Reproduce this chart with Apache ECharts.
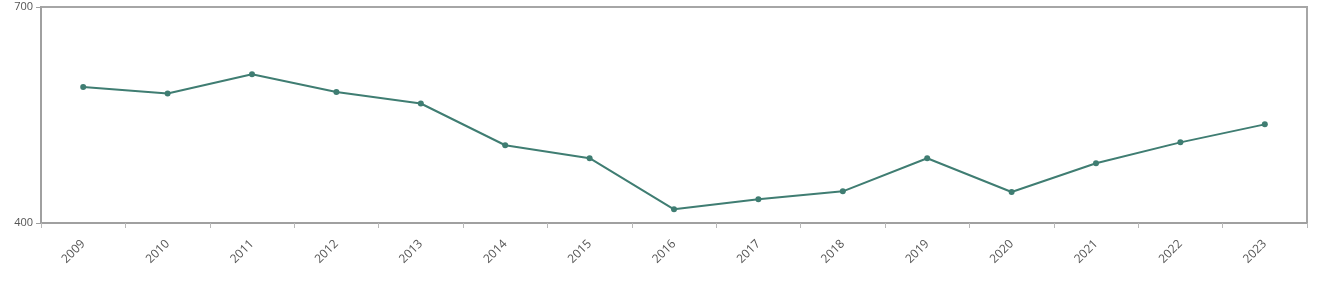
<!DOCTYPE html>
<html>
<head>
<meta charset="utf-8">
<script src="https://cdn.jsdelivr.net/npm/echarts@6/dist/echarts.min.js"></script>
<style>html,body{margin:0;padding:0;background:#fff}#c{width:1320px;height:289px}</style>
</head>
<body>
<div id="c"></div>
<script>
const categories = ['2009','2010','2011','2012','2013','2014','2015','2016','2017','2018','2019','2020','2021','2022','2023'];
const values = [589, 580, 606.5, 582, 566, 508, 490, 419, 433, 444, 490, 443, 483, 512, 537];
const yMin = 400, yMax = 700;

const chart = echarts.init(document.getElementById('c'), null, {renderer: 'canvas'});
chart.setOption({
  animation: false,
  grid: {left: 41, right: 13, top: 7, bottom: 66, show: true, borderColor: '#a6a6a6', borderWidth: 2, backgroundColor: '#fff'},
  xAxis: {
    type: 'category', data: categories, boundaryGap: true,
    axisLine: {lineStyle: {color: '#a0a0a0', width: 2}},
    axisTick: {show: true, alignWithLabel: false, length: 5, lineStyle: {color: '#b8b8b8'}},
    axisLabel: {rotate: 45, color: '#555', fontSize: 12, fontFamily: 'Open Sans', margin: 19}
  },
  yAxis: {
    type: 'value', min: yMin, max: yMax, interval: 300,
    axisLine: {show: true, lineStyle: {color: '#a0a0a0', width: 2}},
    axisTick: {show: true, length: 5, lineStyle: {color: '#a0a0a0'}},
    splitLine: {show: false},
    axisLabel: {color: '#555', fontSize: 11, fontFamily: 'Open Sans', margin: 8}
  },
  series: [{
    type: 'line', data: values,
    symbol: 'circle', symbolSize: 6,
    lineStyle: {color: '#3f7d72', width: 2},
    itemStyle: {color: '#3f7d72'}
  }]
});
</script>
</body>
</html>
